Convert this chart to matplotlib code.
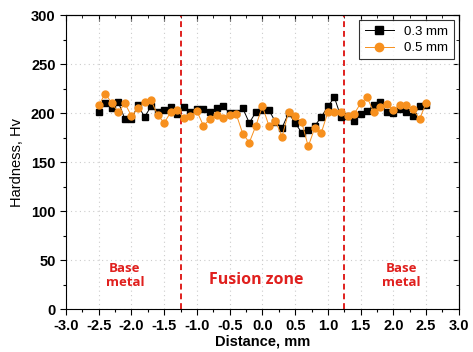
import numpy as np
import matplotlib
matplotlib.use("Agg")
import matplotlib.pyplot as plt
from matplotlib.ticker import MultipleLocator

plt.rcParams['font.family'] = ['Liberation Sans', 'DejaVu Sans']

# distance positions, mm
distance = [-2.5, -2.4, -2.3, -2.2, -2.1, -2.0, -1.9, -1.8, -1.7, -1.6,
            -1.5, -1.4, -1.3, -1.2, -1.1, -1.0, -0.9, -0.8, -0.7, -0.6,
            -0.5, -0.4, -0.3, -0.2, -0.1, 0.0, 0.1, 0.2, 0.3, 0.4,
            0.5, 0.6, 0.7, 0.8, 0.9, 1.0, 1.1, 1.2, 1.3, 1.4,
            1.5, 1.6, 1.7, 1.8, 1.9, 2.0, 2.1, 2.2, 2.3, 2.4, 2.5]

# hardness for 0.3 mm
hv_03 = [201, 210, 205, 211, 194, 194, 208, 196, 207, 201,
         203, 206, 199, 206, 201, 204, 204, 201, 205, 207,
         200, 200, 205, 190, 201, 203, 203, 191, 185, 200,
         190, 180, 183, 187, 196, 207, 216, 196, 197, 192,
         199, 202, 208, 211, 201, 200, 204, 201, 197, 207, 208]

# hardness for 0.5 mm
hv_05 = [208, 220, 210, 201, 210, 197, 205, 211, 213, 198,
         190, 201, 203, 195, 197, 202, 187, 194, 198, 195,
         198, 199, 179, 170, 187, 207, 187, 192, 176, 201,
         197, 191, 166, 185, 180, 201, 201, 201, 197, 199,
         210, 216, 201, 206, 209, 203, 208, 208, 204, 194, 210]

zone_bounds = [-1.25, 1.25]

fig = plt.figure(figsize=(4.73, 3.52), dpi=100)
ax = fig.add_axes([0.1395, 0.122, 0.8305, 0.835])

ax.plot(distance, hv_03, '-s', color='black', lw=0.7, ms=4.3,
        label='0.3 mm', zorder=3)
ax.plot(distance, hv_05, '-o', color='#f7901e', mec='#f7901e', lw=0.7,
        ms=5.0, label='0.5 mm', zorder=4)

for xb in zone_bounds:
    ax.axvline(xb, color='#e0201e', ls=(0, (3, 2)), lw=1.4, zorder=2)

red_font = ['Open Sans', 'DejaVu Sans']
ax.text(-2.1, 34, 'Base\nmetal', color='#e0201e', fontsize=9.5,
        fontweight='bold', ha='center', va='center', linespacing=1.05,
        family=red_font)
ax.text(2.12, 34, 'Base\nmetal', color='#e0201e', fontsize=9.5,
        fontweight='bold', ha='center', va='center', linespacing=1.05,
        family=red_font)
ax.text(-0.1, 30, 'Fusion zone', color='#e0201e', fontsize=11.5,
        fontweight='bold', ha='center', va='center', family=red_font)

ax.set_xlim(-3.0, 3.0)
ax.set_ylim(0, 300)
ax.xaxis.set_major_locator(MultipleLocator(0.5))
ax.xaxis.set_minor_locator(MultipleLocator(0.25))
ax.yaxis.set_major_locator(MultipleLocator(50))
ax.yaxis.set_minor_locator(MultipleLocator(25))
ax.grid(True, which='major', color='#cccccc', ls=(0, (1, 3)), lw=0.8,
        zorder=0)
ax.tick_params(which='major', direction='out', length=4, width=0.8,
               labelsize=10.5)
ax.tick_params(which='minor', direction='out', length=2, width=0.8)
ax.set_xticks(np.arange(-3.0, 3.01, 0.5))
ax.set_xticklabels(['%.1f' % v for v in np.arange(-3.0, 3.01, 0.5)],
                   fontweight='bold')
for lab in ax.get_yticklabels():
    lab.set_fontweight('bold')

top = ax.secondary_xaxis('top')
top.xaxis.set_major_locator(MultipleLocator(0.5))
top.xaxis.set_minor_locator(MultipleLocator(0.25))
top.tick_params(which='both', direction='in', labeltop=False)
top.tick_params(which='major', length=4)
top.tick_params(which='minor', length=2)
right = ax.secondary_yaxis('right')
right.yaxis.set_major_locator(MultipleLocator(50))
right.yaxis.set_minor_locator(MultipleLocator(25))
right.tick_params(which='both', direction='in', labelright=False)
right.tick_params(which='major', length=4)
right.tick_params(which='minor', length=2)

ax.set_xlabel('Distance, mm', fontsize=10.5, fontweight='bold', labelpad=1)
ax.set_ylabel('Hardness, Hv', fontsize=10.5, labelpad=5)

leg = ax.legend(loc='upper right', fontsize=9.5, frameon=True, fancybox=False,
                edgecolor='black', borderpad=0.4, handlelength=2.2,
                labelspacing=0.3, borderaxespad=0.4, markerscale=1.2)
leg.get_frame().set_linewidth(0.8)

fig.savefig('out.png', dpi=100)
